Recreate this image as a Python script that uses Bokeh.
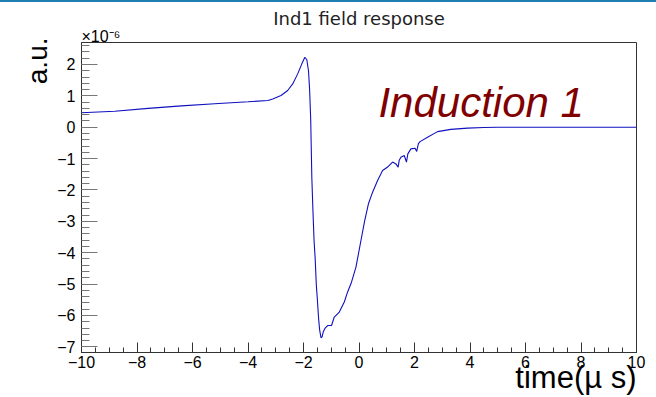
import numpy as np
from bokeh.plotting import figure
from bokeh.models import Range1d, FixedTicker, Label, Div, Title
from bokeh.layouts import column
from bokeh.embed import file_html
from bokeh.resources import INLINE

# time in microseconds, response in units of 1e-6 (a.u.)
time_us = [-10.0, -8.80, -7.60, -6.40, -5.20, -4.00, -3.28, -3.11, -2.81, -2.57, -2.39,
           -2.21, -2.06, -1.95, -1.88, -1.82, -1.78, -1.74, -1.70, -1.66, -1.62, -1.58,
           -1.54, -1.50, -1.46, -1.42, -1.37, -1.33, -1.29, -1.22, -1.13, -0.99, -0.89,
           -0.71, -0.53, -0.41, -0.27, -0.11, 0.07, 0.20, 0.34, 0.49, 0.67, 0.85, 1.03,
           1.21, 1.33, 1.41, 1.45, 1.51, 1.63, 1.71, 1.76, 1.87, 2.02, 2.08, 2.14, 2.20,
           2.47, 2.83, 3.31, 3.91, 4.50, 5.00, 6.00, 7.00, 8.00, 9.00, 10.0]
response = [0.46, 0.51, 0.60, 0.68, 0.75, 0.81, 0.85, 0.90, 1.01, 1.17, 1.38,
            1.70, 2.02, 2.23, 2.15, 1.80, 1.20, 0.24, -1.60, -2.66, -3.60, -4.18,
            -5.00, -5.50, -6.05, -6.45, -6.71, -6.68, -6.53, -6.40, -6.32, -6.32, -6.05,
            -5.89, -5.57, -5.25, -4.94, -4.46, -3.61, -3.00, -2.44, -2.07, -1.70, -1.38, -1.27,
            -1.11, -1.17, -1.27, -1.05, -0.96, -0.90, -1.11, -0.85, -0.69, -0.67, -0.77, -0.52, -0.46,
            -0.32, -0.14, -0.07, -0.03, -0.01, 0.00, 0.00, 0.00, 0.00, 0.00, 0.00]

x_ticks = [-10, -8, -6, -4, -2, 0, 2, 4, 6, 8, 10]
x_tick_labels = ["\u221210", "\u22128", "\u22126", "\u22124", "\u22122", "0", "2", "4", "6", "8", "10"]
y_ticks = [-7, -6, -5, -4, -3, -2, -1, 0, 1, 2]
y_tick_labels = ["\u22127", "\u22126", "\u22125", "\u22124", "\u22123", "\u22122", "\u22121", "0", "1", "2"]

FONT = "Liberation Sans"
X0, X1 = -10, 10
Y0, Y1 = -7.18, 2.7

p = figure(width=656, height=395, output_backend="svg", toolbar_location=None, title=None,
           x_range=Range1d(X0, X1), y_range=Range1d(Y0, Y1),
           min_border_left=81, min_border_right=20, min_border_top=40, min_border_bottom=45)
p.background_fill_color = "white"
p.border_fill_color = "white"
p.grid.visible = False
p.outline_line_color = "#333333"
p.outline_line_width = 1

p.line(time_us, response, line_color="#1010c0", line_width=1.1)

# axes
xa = p.xaxis[0]
xa.ticker = FixedTicker(ticks=x_ticks, minor_ticks=list(np.arange(-10, 10.01, 0.5)))
xa.major_label_overrides = {t: l for t, l in zip(x_ticks, x_tick_labels)}
xa.major_tick_in = 10
xa.major_tick_out = 0
xa.minor_tick_in = 5
xa.minor_tick_out = 0
xa.major_tick_line_color = "#333333"
xa.minor_tick_line_color = "#333333"
xa.axis_line_color = "#333333"
xa.major_label_text_font = FONT
xa.major_label_text_font_size = "16px"
xa.major_label_text_color = "black"
xa.major_label_standoff = 3

ya = p.yaxis[0]
ya.ticker = FixedTicker(ticks=y_ticks, minor_ticks=[v for v in np.arange(-7.2, 2.81, 0.2) if Y0 <= v <= Y1])
ya.major_label_overrides = {t: l for t, l in zip(y_ticks, y_tick_labels)}
ya.major_tick_in = 16
ya.major_tick_out = 0
ya.minor_tick_in = 8
ya.minor_tick_out = 0
ya.major_tick_line_color = "#777777"
ya.minor_tick_line_color = "#777777"
ya.axis_line_color = "#333333"
ya.major_label_text_font = FONT
ya.major_label_text_font_size = "16px"
ya.major_label_text_color = "black"
ya.major_label_standoff = 6

# texts outside the frame as titles in side panels
p.add_layout(Title(text="\u00d710\u207b\u2076", align="left", text_font=FONT,
                   text_font_size="16px", text_font_style="normal", text_color="black",
                   standoff=-5, offset=0), "above")
p.add_layout(Title(text="Ind1 field response", align="center", text_font="DejaVu Sans",
                   text_font_size="18px", text_font_style="normal", text_color="#222222",
                   standoff=0), "above")
p.add_layout(Title(text="a.u.", align="right", text_font=FONT,
                   text_font_size="28px", text_font_style="normal", text_color="black",
                   standoff=4, offset=-5), "left")
p.add_layout(Title(text="time(\u00b5 s)", align="right", text_font=FONT,
                   text_font_size="31px", text_font_style="normal", text_color="black",
                   vertical_align="top", standoff=-22), "below")

# text inside the frame
p.add_layout(Label(x=0.70, y=0.79, text="Induction 1", text_font=FONT,
                   text_font_size="42px", text_font_style="italic", text_color="#800000",
                   text_align="left", text_baseline="alphabetic"))

top_bar = Div(text="", width=656, height=2, margin=0,
              styles={"background-color": "#1f7fb0"})
layout = column(top_bar, p, spacing=0, margin=0)

open("out.html", "w").write(file_html(layout, INLINE))
